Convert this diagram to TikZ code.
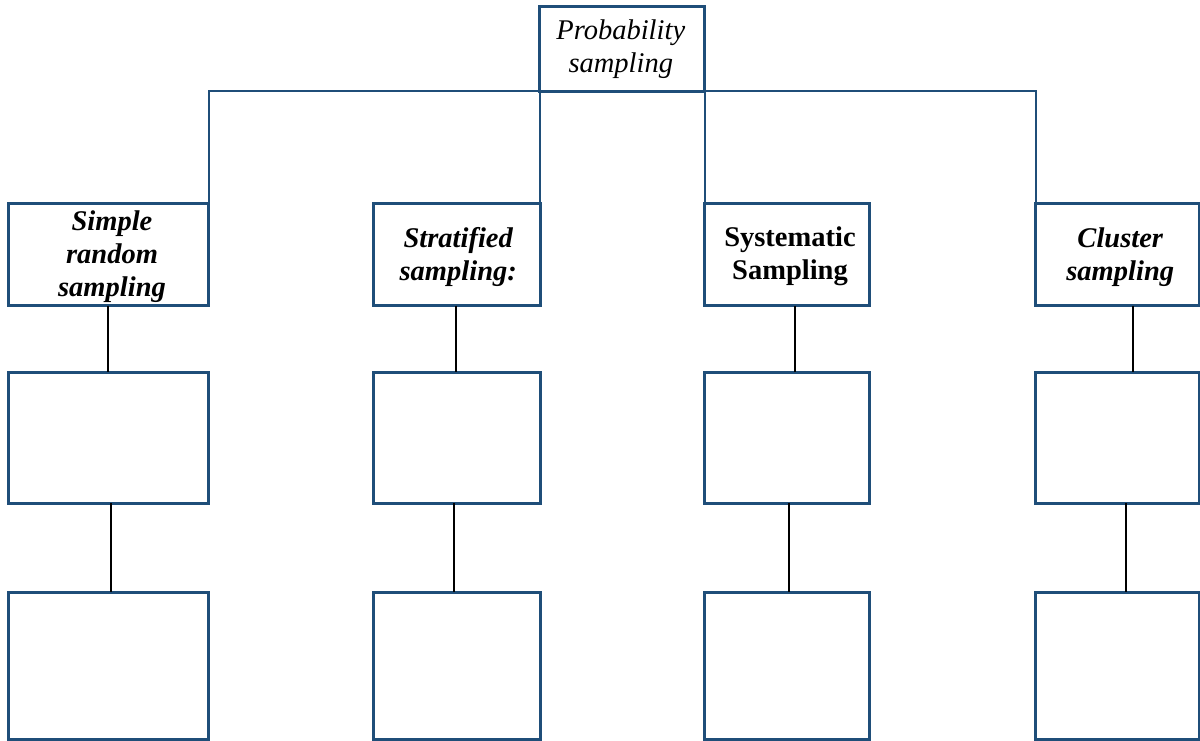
\documentclass[tikz,border=0pt]{standalone}
\usepackage{fontspec}
\setmainfont{Liberation Serif}
\definecolor{frameblue}{RGB}{31,78,121}
\begin{document}
\begin{tikzpicture}[x=1pt,y=-1pt,
  box/.style={draw=frameblue, line width=3pt, rectangle, inner sep=0pt,
    outer sep=0pt, fill=white},
  caption/.style={inner sep=0pt, align=center,
    font=\fontsize{28.5}{33}\selectfont #1},
  headbox/.style={box, minimum height=102.5pt},
  midbox/.style={box, minimum height=131pt},
  lowbox/.style={box, minimum height=147pt},
  link/.style={draw=frameblue, line width=2pt},
  stem/.style={draw=black, line width=2pt}]
\useasboundingbox (0,0) rectangle (1200,741);

% root
\node[box, minimum width=164.5pt, minimum height=84.5pt]
  (top) at (621.75,49.25) {};
\node[caption=\itshape] (ttop) at ([xshift=-1pt]top.center)
  {Probability\\sampling};

% method boxes
\node[headbox, minimum width=200pt]   (b1) at (108.5,254.25) {};
\node[headbox, minimum width=166.5pt] (b2) at (456.75,254.25) {};
\node[headbox, minimum width=165pt]   (b3) at (787,254.25) {};
\node[headbox, minimum width=163.5pt] (b4) at (1117.25,254.25) {};

\node[caption=\bfseries\itshape] (t1) at ([xshift=3.5pt,yshift=-2.5pt]b1.center)
  {Simple\\random\\sampling};
\node[caption=\bfseries\itshape] (t2) at ([xshift=1.5pt,yshift=-2.5pt]b2.center)
  {Stratified\\sampling:};
\node[caption=\bfseries] (t3) at ([xshift=3pt,yshift=-2.5pt]b3.center)
  {Systematic\\Sampling};
\node[caption=\bfseries\itshape] (t4) at ([xshift=3pt,yshift=-2.5pt]b4.center)
  {Cluster\\sampling};

% empty boxes, second level
\node[midbox, minimum width=200pt]   (c1) at (108.5,437.5) {};
\node[midbox, minimum width=166.5pt] (c2) at (456.75,437.5) {};
\node[midbox, minimum width=165pt]   (c3) at (787,437.5) {};
\node[midbox, minimum width=163.5pt] (c4) at (1117.25,437.5) {};

% empty boxes, third level
\node[lowbox, minimum width=200pt]   (d1) at (108.5,665.5) {};
\node[lowbox, minimum width=166.5pt] (d2) at (456.75,665.5) {};
\node[lowbox, minimum width=165pt]   (d3) at (787,665.5) {};
\node[lowbox, minimum width=163.5pt] (d4) at (1117.25,665.5) {};

% tree links from the root
\draw[link] (b1.north east) |- (top.south) -| (b4.north west);
\draw[link] (b2.north east) -- (b2.north east |- top.south);
\draw[link] (b3.north west) -- (b3.north west |- top.south);

% vertical stems
\draw[stem] ([xshift=-0.5pt]b1.south) -- ([xshift=-0.5pt]c1.north);
\draw[stem] ([xshift=-0.75pt]b2.south) -- ([xshift=-0.75pt]c2.north);
\draw[stem] ([xshift=8pt]b3.south) -- ([xshift=8pt]c3.north);
\draw[stem] ([xshift=15.75pt]b4.south) -- ([xshift=15.75pt]c4.north);

\draw[stem] ([xshift=2.5pt]c1.south) -- ([xshift=2.5pt]d1.north);
\draw[stem] ([xshift=-2.75pt]c2.south) -- ([xshift=-2.75pt]d2.north);
\draw[stem] ([xshift=2pt]c3.south) -- ([xshift=2pt]d3.north);
\draw[stem] ([xshift=8.75pt]c4.south) -- ([xshift=8.75pt]d4.north);
\end{tikzpicture}
\end{document}
